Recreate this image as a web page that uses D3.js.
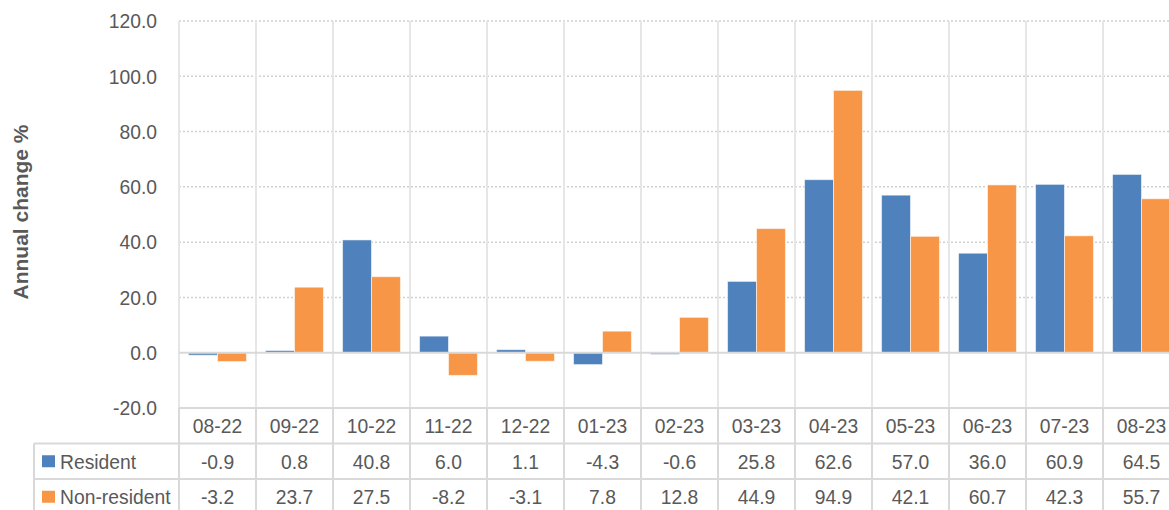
<!DOCTYPE html>
<html>
<head>
<meta charset="utf-8">
<script src="https://cdn.jsdelivr.net/npm/d3@7/dist/d3.min.js"></script>
<style>
  html, body { margin: 0; padding: 0; background: #fff; }
  svg { display: block; font-family: "Liberation Sans", Arial, sans-serif; }
</style>
</head>
<body>
<svg id="chart" width="1169" height="510"></svg>
<script>
// Monthly categories (MM-YY)
const months = ["08-22","09-22","10-22","11-22","12-22","01-23","02-23","03-23","04-23","05-23","06-23","07-23","08-23"];
// Annual change % per series
const resident    = [-0.9, 0.8, 40.8, 6.0, 1.1, -4.3, -0.6, 25.8, 62.6, 57.0, 36.0, 60.9, 64.5];
const nonResident = [-3.2, 23.7, 27.5, -8.2, -3.1, 7.8, 12.8, 44.9, 94.9, 42.1, 60.7, 42.3, 55.7];
const seriesNames = ["Resident", "Non-resident"];
const seriesColors = ["#4F81BD", "#F79646"];
const yTicks = [-20, 0, 20, 40, 60, 80, 100, 120];

const series = [resident, nonResident];

const svg = d3.select("#chart");
const textColor = "#595959";
const gridColor = "#e6e6e6";
const tableColor = "#d9d9d9";

const plotLeft = 179, colW = 77;
const plotTop = 21, plotBottom = 408;
const tableLeft = 34;
const rowH = 35.5;
const fontSize = 21;     // glyph height
const squeeze = 0.92;    // narrow horizontal proportions

// plain hyphen-minus for negatives
const fmt = v => d3.format(".1f")(v).replace("\u2212", "-");

const x0 = d3.scaleBand().domain(months).range([plotLeft, plotLeft + colW * months.length]).paddingInner(0).paddingOuter(0);
const x1 = d3.scaleBand().domain(seriesNames).range([0, x0.bandwidth()]).paddingInner(0).paddingOuter(0.33);
const y = d3.scaleLinear().domain([-20, 120]).range([plotBottom, plotTop]);
const right = x0.range()[1];

// text placed at (x, y) with narrowed glyphs
function label(parent, x, yy, str, anchor) {
  return parent.append("text")
    .attr("transform", `translate(${x},${yy}) scale(${squeeze},1)`)
    .attr("dy", "0.36em")
    .attr("text-anchor", anchor || "middle")
    .attr("font-size", fontSize).attr("fill", textColor)
    .text(str);
}

// Horizontal dotted gridlines
svg.append("g").selectAll("line").data(yTicks.filter(d => d !== 0 && d !== -20)).join("line")
  .attr("x1", plotLeft).attr("x2", right)
  .attr("y1", d => y(d)).attr("y2", d => y(d))
  .attr("stroke", "#d0d0d0").attr("stroke-width", 1.5).attr("stroke-dasharray", "2,2");

// Vertical category separators in the plot area
const tableBottom = plotBottom + rowH * 3;
svg.append("g").selectAll("line").data(d3.range(months.length + 1)).join("line")
  .attr("x1", i => plotLeft + i * colW).attr("x2", i => plotLeft + i * colW)
  .attr("y1", plotTop).attr("y2", plotBottom)
  .attr("stroke", gridColor).attr("stroke-width", 2);

// Bars
const groups = svg.append("g").selectAll("g").data(months).join("g")
  .attr("transform", d => `translate(${x0(d)},0)`);
groups.selectAll("rect").data((m, i) => series.map((s, k) => ({ k, v: s[i] }))).join("rect")
  .attr("x", d => x1(seriesNames[d.k]))
  .attr("width", x1.bandwidth())
  .attr("y", d => y(Math.max(0, d.v)))
  .attr("height", d => Math.abs(y(d.v) - y(0)))
  .attr("fill", d => seriesColors[d.k])
  .attr("stroke", "rgba(255,255,255,0.55)").attr("stroke-width", 1);

// Zero line
svg.append("line")
  .attr("x1", plotLeft).attr("x2", right)
  .attr("y1", y(0)).attr("y2", y(0))
  .attr("stroke", tableColor).attr("stroke-width", 2);

// Y axis labels
const yAxis = d3.axisLeft(y).tickValues(yTicks).tickFormat(fmt).tickSize(0).tickPadding(22);
const yg = svg.append("g").attr("transform", `translate(${plotLeft},0)`).call(yAxis);
yg.select(".domain").remove();
yg.selectAll("text")
  .attr("x", -22 / squeeze)
  .attr("transform", `scale(${squeeze},1)`)
  .attr("fill", textColor).attr("font-size", fontSize)
  .attr("font-family", "'Liberation Sans', Arial, sans-serif");

// Axis title
svg.append("text")
  .attr("transform", `translate(28,212) rotate(-90) scale(1.05,1)`)
  .attr("text-anchor", "middle")
  .attr("font-size", 20).attr("font-weight", "bold").attr("fill", textColor)
  .text("Annual change %");

// Data table
const tg = svg.append("g");
const rows = [
  { y: plotBottom, x1: plotLeft },
  { y: plotBottom + rowH, x1: tableLeft },
  { y: plotBottom + rowH * 2, x1: tableLeft },
  { y: tableBottom, x1: tableLeft }
];
tg.selectAll("line.h").data(rows).join("line").attr("class", "h")
  .attr("x1", d => d.x1).attr("x2", right)
  .attr("y1", d => d.y).attr("y2", d => d.y)
  .attr("stroke", tableColor).attr("stroke-width", 2);
tg.selectAll("line.v").data(d3.range(months.length + 1)).join("line").attr("class", "v")
  .attr("x1", i => plotLeft + i * colW).attr("x2", i => plotLeft + i * colW)
  .attr("y1", plotBottom).attr("y2", tableBottom)
  .attr("stroke", tableColor).attr("stroke-width", 2);
tg.append("line")
  .attr("x1", tableLeft).attr("x2", tableLeft)
  .attr("y1", plotBottom + rowH).attr("y2", tableBottom)
  .attr("stroke", tableColor).attr("stroke-width", 2);

// category header
months.forEach(m => label(tg, x0(m) + x0.bandwidth() / 2, plotBottom + rowH / 2, m));

// series rows
series.forEach((s, k) => {
  const cy = plotBottom + rowH * (k + 1) + rowH / 2;
  tg.append("rect")
    .attr("x", 42).attr("y", cy - 6).attr("width", 13).attr("height", 12)
    .attr("fill", seriesColors[k]);
  label(tg, 60, cy, seriesNames[k], "start");
  s.forEach((v, i) => label(tg, x0(months[i]) + x0.bandwidth() / 2, cy, fmt(v)));
});
</script>
</body>
</html>
